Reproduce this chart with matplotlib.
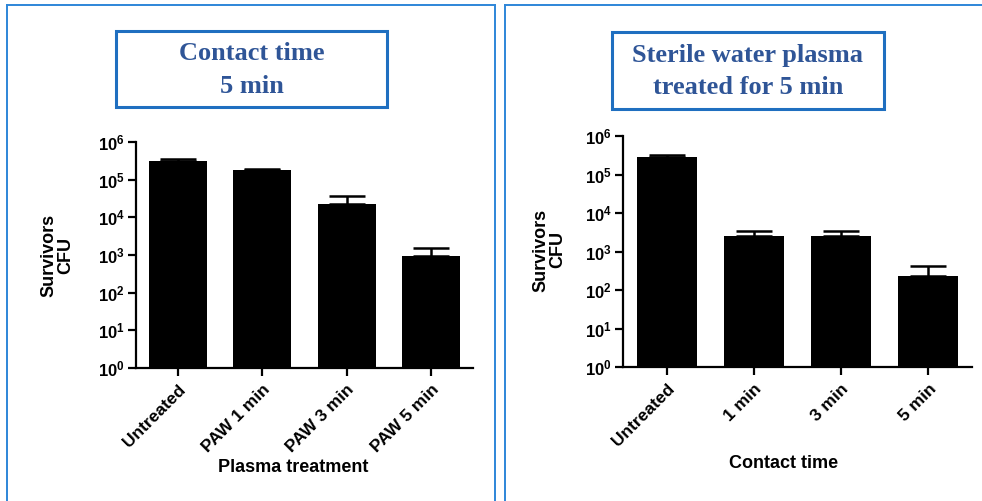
import matplotlib
matplotlib.use("Agg")
import matplotlib.pyplot as plt
from matplotlib.patches import Rectangle
from matplotlib.ticker import FixedLocator, NullLocator

plt.rcParams['font.family'] = ['Liberation Sans', 'DejaVu Sans']
plt.rcParams['mathtext.fontset'] = 'custom'
plt.rcParams['mathtext.rm'] = 'Liberation Sans:bold'
plt.rcParams['mathtext.bf'] = 'Liberation Sans:bold'
plt.rcParams['mathtext.it'] = 'Liberation Sans:bold'

# ---- data ----
left_categories = ["Untreated", "PAW 1 min", "PAW 3 min", "PAW 5 min"]
left_values = [3.2e5, 1.8e5, 2.2e4, 950]
left_err_top = [3.6e5, 1.9e5, 3.6e4, 1500]
left_title = "Contact time\n5 min"
left_xlabel = "Plasma treatment"

right_categories = ["Untreated", "1 min", "3 min", "5 min"]
right_values = [2.8e5, 2.6e3, 2.5e3, 230]
right_err_top = [3.3e5, 3.5e3, 3.4e3, 420]
right_title = "Sterile water plasma\ntreated for 5 min"
right_xlabel = "Contact time"

ylabel = "Survivors\nCFU"
ytick_exps = [0, 1, 2, 3, 4, 5, 6]

W, H = 982, 501
fig = plt.figure(figsize=(W / 100, H / 100), dpi=100)

def fx(x):
    return x / W

def fy(y):
    return 1 - y / H

border_color = '#2E86D8'
box_color = '#1F6FC0'
title_color = '#2F5597'

# outer panel borders
for (x0, x1) in [(6.5, 494.5), (504.5, 990)]:
    fig.add_artist(plt.Line2D([fx(x0), fx(x0)], [fy(5), fy(520)], color=border_color, lw=1.4))
    fig.add_artist(plt.Line2D([fx(x0), fx(x1)], [fy(5), fy(5)], color=border_color, lw=1.4))
    if x1 < W:
        fig.add_artist(plt.Line2D([fx(x1), fx(x1)], [fy(5), fy(520)], color=border_color, lw=1.4))

def draw_panel(ax_box, title_box, cats, vals, errs, title, xlabel, xlab_pos, ylab_pos):
    x0, y0, x1, y1 = ax_box
    ax = fig.add_axes([fx(x0), fy(y1), fx(x1) - fx(x0), fy(y0) - fy(y1)])
    xs = list(range(len(cats)))
    ax.bar(xs, vals, width=0.69, color='black', zorder=2)
    upper = [e - v for e, v in zip(errs, vals)]
    ax.errorbar(xs, vals, yerr=[[0] * len(vals), upper], fmt='none', ecolor='black',
                elinewidth=1.8, capsize=13, capthick=1.8, zorder=1)
    ax.set_yscale('log')
    ax.set_ylim(1, 1e6)
    ax.set_xlim(-0.5, len(cats) - 0.5)
    ax.yaxis.set_major_locator(FixedLocator([10 ** e for e in ytick_exps]))
    ax.yaxis.set_minor_locator(NullLocator())
    ax.set_yticklabels([r'$\mathbf{10^{%d}}$' % e for e in ytick_exps], fontsize=12)
    ax.set_xticks(xs)
    ax.set_xticklabels(cats, rotation=45, ha='right', va='top', rotation_mode='anchor',
                       fontsize=12.5, fontweight='bold')
    for s in ['top', 'right']:
        ax.spines[s].set_visible(False)
    for s in ['left', 'bottom']:
        ax.spines[s].set_linewidth(1.6)
    ax.tick_params(axis='both', direction='out', length=6, width=1.6, pad=2)
    ax.tick_params(axis='x', pad=4)
    ax.set_facecolor('none')
    # labels
    fig.text(fx(xlab_pos[0]), fy(xlab_pos[1]), xlabel, ha='center', va='center',
             fontsize=13, fontweight='bold')
    fig.text(fx(ylab_pos[0]), fy(ylab_pos[1]), ylabel, ha='center', va='center',
             rotation=90, fontsize=13, fontweight='bold', linespacing=1.0,
             multialignment='center')
    # title box
    bx0, by0, bx1, by1 = title_box
    fig.add_artist(Rectangle((fx(bx0), fy(by1)), fx(bx1) - fx(bx0), fy(by0) - fy(by1),
                             transform=fig.transFigure, fill=False, edgecolor=box_color, lw=2.2))
    fig.text(fx((bx0 + bx1) / 2), fy((by0 + by1) / 2 + 1), title, ha='center', va='center',
             fontsize=19, fontweight='bold', color=title_color,
             family=['Liberation Serif', 'DejaVu Serif'], linespacing=1.55,
             multialignment='center')
    return ax

draw_panel((136, 142, 473, 368), (116, 31, 387, 107), left_categories, left_values,
           left_err_top, left_title, left_xlabel, (293, 468), (57, 255))
draw_panel((623, 136, 972, 367), (612, 32, 884, 109), right_categories, right_values,
           right_err_top, right_title, right_xlabel, (784, 463), (549, 250))

fig.savefig('out.png', dpi=100)
